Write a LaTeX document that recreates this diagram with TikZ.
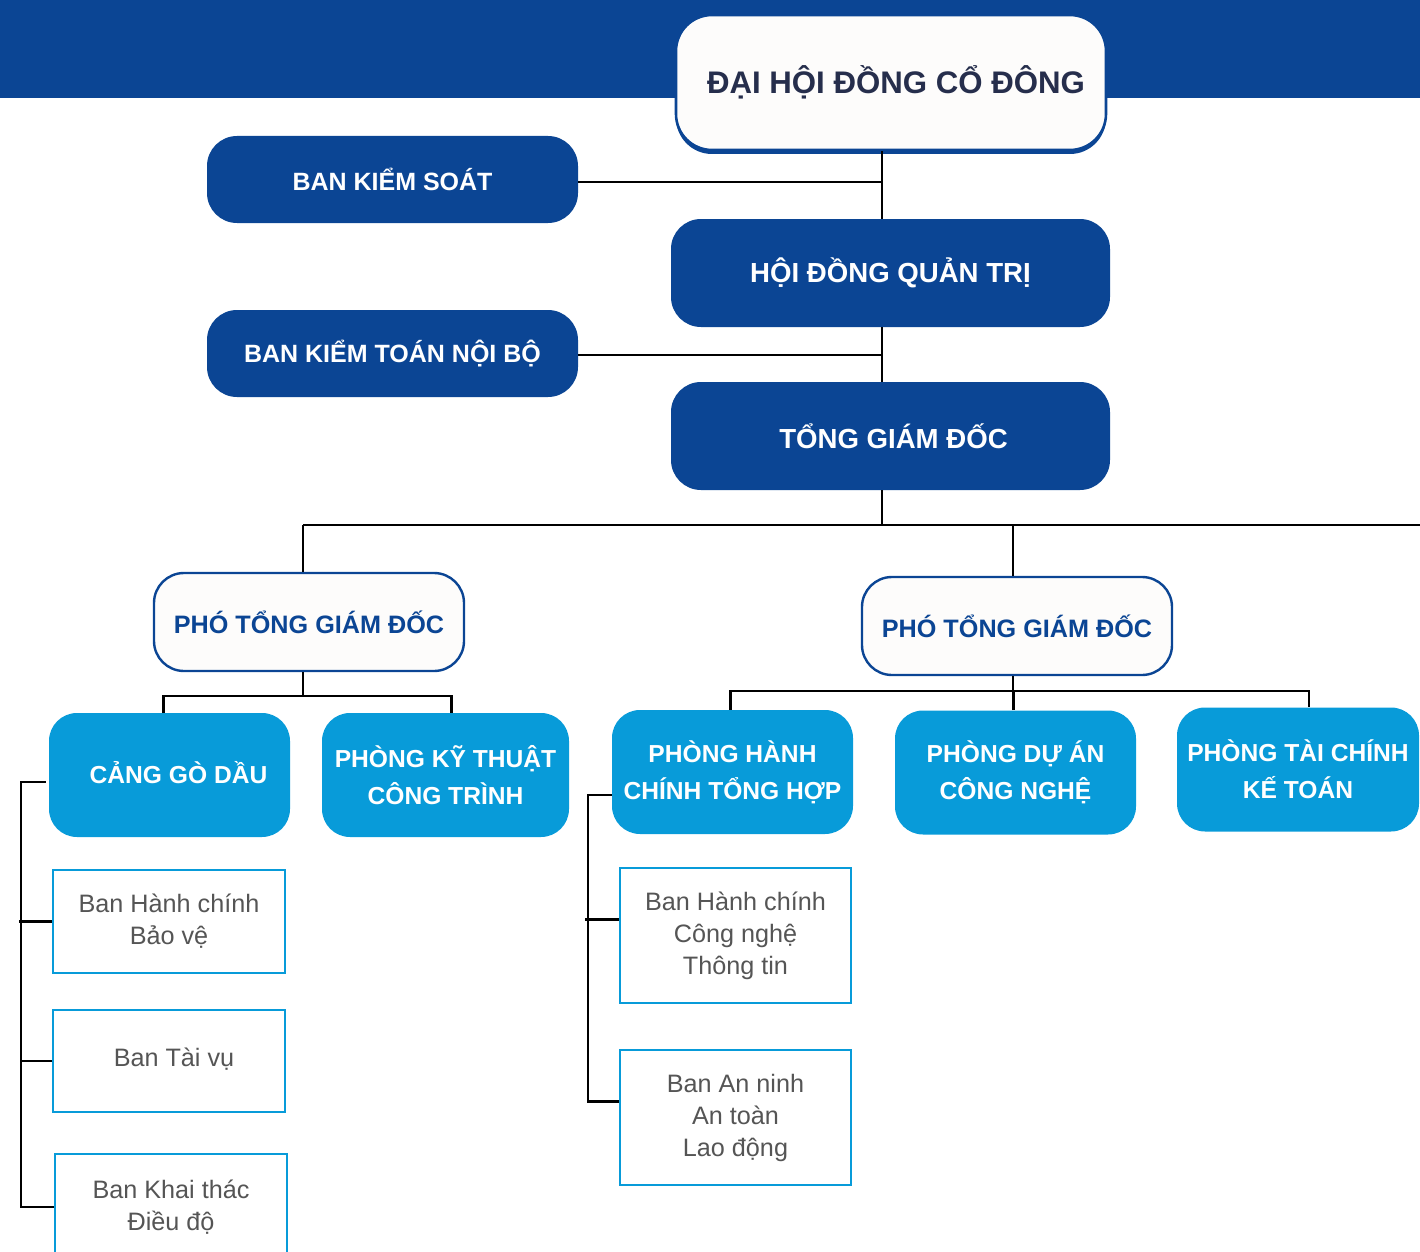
\documentclass[tikz,border=0pt]{standalone}
\usepackage{fontspec}
\setmainfont{Liberation Sans}
\usetikzlibrary{calc,shadows}
\definecolor{dblue}{RGB}{11,69,148}
\definecolor{lblue}{RGB}{8,155,217}
\definecolor{navy}{RGB}{38,46,76}
\definecolor{subgray}{RGB}{85,85,85}
\definecolor{offwhite}{RGB}{253,252,251}
\begin{document}
\begin{tikzpicture}[x=0.5pt,y=-0.5pt,
  conn/.style={line width=1.2pt, black},
  darkbox/.style={fill=dblue, rounded corners=15pt, text=white, align=center, inner sep=0pt,
    font=\bfseries\fontsize{12.5}{15}\selectfont},
  topbox/.style={fill=offwhite, draw=dblue, line width=1.3pt, rounded corners=18pt, text=navy,
    align=center, inner sep=0pt, font=\bfseries\fontsize{15.6}{18}\selectfont,
    drop shadow={shadow xshift=0pt, shadow yshift=-2pt, fill=dblue, opacity=1}},
  vicebox/.style={fill=offwhite, draw=dblue, line width=1.2pt, rounded corners=15pt, text=dblue,
    align=center, inner sep=0pt, font=\bfseries\fontsize{12.6}{15}\selectfont,
    minimum width=155pt, minimum height=49pt},
  deptbox/.style={fill=lblue, rounded corners=14pt, text=white, align=center, inner sep=0pt,
    font=\bfseries\fontsize{12.3}{18.5}\selectfont, minimum width=121pt, minimum height=62pt},
  subbox/.style={fill=white, draw=lblue, line width=1.2pt, text=subgray, align=center, inner sep=0pt,
    font=\fontsize{12.6}{16}\selectfont, minimum width=116pt}]
\useasboundingbox (0,0) rectangle (1420,1252);
% banner
\fill[dblue] (0,0) rectangle (1420,98);

% coordinates for connector spines
\coordinate (trunk) at (882,0);
\coordinate (bus) at (0,525);
\coordinate (busend) at (1420,525);
\coordinate (lbus) at (0,696);
\coordinate (rbus) at (0,691);
\coordinate (lsp) at (21,0);
\coordinate (rsp) at (588,0);

% top levels
\node[topbox, minimum width=215pt, minimum height=67.5pt] (dhcd) at (891,82.5) {\raisebox{2.2pt}{\hspace*{5pt}ĐẠI HỘI ĐỒNG CỔ ĐÔNG}};
\node[darkbox, minimum width=185.5pt, minimum height=43.5pt] (bks) at (392.5,179.5) {BAN KIỂM SOÁT};
\node[darkbox, minimum width=219.5pt, minimum height=54pt, font=\bfseries\fontsize{13.8}{16}\selectfont] (hdqt) at (890.5,273) {HỘI ĐỒNG QUẢN TRỊ};
\node[darkbox, minimum width=185.5pt, minimum height=43.5pt] (bktnb) at (392.5,353.5) {BAN KIỂM TOÁN NỘI BỘ};
\node[darkbox, minimum width=219.5pt, minimum height=54pt, font=\bfseries\fontsize{13.8}{16}\selectfont] (tgd) at (890.5,436) {\hspace*{3pt}TỔNG GIÁM ĐỐC};

% vice directors
\node[vicebox] (pL) at (309,622) {PHÓ TỔNG GIÁM ĐỐC};
\node[vicebox] (pR) at (1017,626) {PHÓ TỔNG GIÁM ĐỐC};

% departments
\node[deptbox, minimum width=120.5pt] (cgd) at (169.5,775) {\raisebox{3pt}{\hspace*{9pt}CẢNG GÒ DẦU}};
\node[deptbox, minimum width=123.5pt] (ktct) at (445.5,775) {PHÒNG KỸ THUẬT\\CÔNG TRÌNH};
\node[deptbox, minimum width=120.5pt] (phc) at (732.5,772) {PHÒNG HÀNH\\CHÍNH TỔNG HỢP};
\node[deptbox, minimum width=120.5pt] (pda) at (1015.5,772.5) {PHÒNG DỰ ÁN\\CÔNG NGHỆ};
\node[deptbox, minimum width=121pt] (ptc) at (1298,769.5) {PHÒNG TÀI CHÍNH\\KẾ TOÁN};

% sub units
\node[subbox, minimum height=51.5pt] (bhcbv) at (169,921.5) {Ban Hành chính\\Bảo vệ};
\node[subbox, minimum height=51pt] (btv) at (169,1061) {\raisebox{3.5pt}{\hspace*{5pt}Ban Tài vụ}};
\node[subbox, minimum height=53pt] (bkt) at (171,1207) {Ban Khai thác\\Điều độ};
\node[subbox, minimum width=115.5pt, minimum height=67.5pt] (bhccn) at (735.5,935.5) {Ban Hành chính\\Công nghệ\\Thông tin};
\node[subbox, minimum width=115.5pt, minimum height=67.5pt] (bann) at (735.5,1117.5) {Ban An ninh\\An toàn\\Lao động};

% connectors: trunk
\draw[conn] (dhcd.south -| trunk) -- (hdqt.north -| trunk);
\draw[conn] (hdqt.south -| trunk) -- (tgd.north -| trunk);
\draw[conn] (tgd.south -| trunk) -- (trunk |- bus);
\draw[conn] ($(bks.east)+(0,2.5)$) -- ($(bks.east -| trunk)+(0,2.5)$);
\draw[conn] ($(bktnb.east)+(0,1.5)$) -- ($(bktnb.east -| trunk)+(0,1.5)$);
% main bus
\draw[conn] ($(pL.north |- bus)+(-6,0)$) -- (busend);
\draw[conn] ($(pL.north |- bus)+(-6,0)$) -- ($(pL.north)+(-6,0)$);
\draw[conn] ($(pR.north |- bus)+(-4,0)$) -- ($(pR.north)+(-4,0)$);
% left vice children
\draw[conn] ($(pL.south)+(-6,0)$) -- ($(pL.south |- lbus)+(-6,0)$);
\draw[conn] ($(cgd.north)+(-6,0)$) -- ($(cgd.north |- lbus)+(-6,0)$) -- ($(ktct.north |- lbus)+(6,0)$) -- ($(ktct.north)+(6,0)$);
% right vice children
\draw[conn] ($(pR.south)+(-4,0)$) -- ($(pR.south |- rbus)+(-4,0)$);
\draw[conn] ($(phc.north)+(-2,0)$) -- ($(phc.north |- rbus)+(-2,0)$) -- ($(ptc.north |- rbus)+(11,0)$) -- ($(ptc.north)+(11,0)$);
\draw[conn] ($(pda.north)+(-2,0)$) -- ($(pda.north |- rbus)+(-2,0)$);
% left spine
\draw[conn] ($(cgd.west)+(-3,7)$) -- ($(cgd.west -| lsp)+(0,7)$) -- (lsp |- bkt.west) -- (bkt.west);
\draw[conn] (bhcbv.west) -- ($(bhcbv.west -| lsp)+(-2,0)$);
\draw[conn] (btv.west) -- (btv.west -| lsp);
% right spine
\draw[conn] ($(phc.west)+(0,23)$) -- ($(phc.west -| rsp)+(0,23)$) -- ($(rsp |- bann.west)+(0,-16)$) -- ($(bann.west)+(0,-16)$);
\draw[conn] ($(bhccn.west)+(0,-16)$) -- ($(bhccn.west -| rsp)+(-3,-16)$);
\end{tikzpicture}
\end{document}
